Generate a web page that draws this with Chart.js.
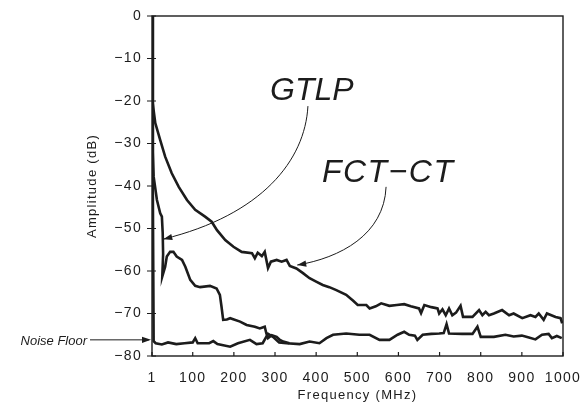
<!DOCTYPE html>
<html>
<head>
<meta charset="utf-8">
<script src="https://cdn.jsdelivr.net/npm/chart.js@4"></script>
<style>html,body{margin:0;padding:0;background:#fff}</style>
</head>
<body>
<canvas id="chart" width="584" height="412" style="width:584px;height:412px"></canvas>
<script>
// tick values
const xTicks = [1, 100, 200, 300, 400, 500, 600, 700, 800, 900, 1000];
const yTicks = [0, -10, -20, -30, -40, -50, -60, -70, -80];

// FCT-CT trace
const fctFreq = [1, 2, 9, 21, 33, 49, 66, 86, 106, 130, 146, 159, 179, 199, 219, 244, 251, 258, 268, 275, 283, 290, 304, 316, 328, 336, 352, 368, 384, 400, 416, 432, 449, 473, 490, 501, 522, 530, 545, 558, 578, 596, 614, 630, 650, 655, 663, 680, 695, 699, 707, 715, 723, 731, 740, 751, 757, 780, 796, 804, 812, 820, 832, 852, 869, 880, 901, 921, 933, 941, 953, 961, 982, 994, 998];
const fctAmp = [0, -20, -25.2, -29.2, -33.1, -37, -40.2, -43.3, -45.6, -47.2, -48.4, -50.4, -52.7, -54.3, -55.5, -55.8, -57, -55.7, -56.5, -55.5, -59.3, -57.8, -57.4, -57.8, -57.4, -58.8, -59.4, -60.5, -61.7, -62.5, -63.3, -63.8, -64.5, -65.6, -67, -68, -68, -68.8, -68.3, -67.6, -68.2, -68, -67.8, -68.3, -68.8, -69.9, -68, -68.5, -68.8, -70, -69, -70.4, -68.8, -70.4, -69.8, -68.2, -70.8, -70.8, -69.2, -70.4, -69.6, -70.4, -70, -69.2, -70.4, -70, -71.1, -70.4, -70.8, -70, -71.5, -70, -70.8, -71.1, -72.3];

// GTLP trace
const gtlpFreq = [1, 3, 5, 13, 21, 25, 27, 28, 26, 33, 37, 45, 53, 61, 74, 82, 94, 106, 118, 142, 158, 166, 170, 174, 183, 191, 215, 231, 251, 263, 275, 279, 283, 292, 304, 312, 320, 335];
const gtlpAmp = [0, -32, -37.8, -43.3, -46.4, -47.2, -51, -56, -61.3, -59, -56.6, -55.5, -55.5, -56.6, -57.4, -59, -62.1, -63.5, -63.8, -63.5, -64.1, -65.6, -68.4, -71.5, -71.4, -71.1, -71.9, -72.7, -73.1, -73.5, -73.1, -74.7, -75.8, -75.1, -75.5, -76.2, -76.6, -77];

// noise floor trace
const noiseFreq = [1, 3, 5, 10, 25, 40, 60, 80, 100, 106, 112, 140, 150, 160, 191, 210, 239, 255, 270, 283, 295, 310, 328, 360, 384, 408, 425, 441, 473, 505, 530, 554, 578, 598, 614, 626, 640, 646, 659, 680, 699, 710, 717, 723, 755, 780, 792, 800, 832, 860, 880, 900, 915, 933, 949, 965, 973, 985, 997];
const noiseAmp = [0, -40, -76.5, -77, -77.3, -76.8, -77.2, -77, -76.8, -75.8, -77, -77, -76.5, -77.2, -77.8, -77, -76.2, -77.2, -77, -74.8, -75.5, -76.8, -77, -77.2, -76.6, -77, -75.8, -75, -74.7, -75, -75, -76.2, -76.2, -75, -74.3, -75, -75.2, -76.2, -75, -74.8, -74.7, -74.6, -72.5, -74.7, -74.8, -74.8, -73.1, -75.5, -75.5, -75, -75.4, -75.2, -75.6, -76.1, -75, -74.8, -75.8, -75.3, -75.8];

const ink = '#1c1c1c';
const fontFamily = '"Liberation Sans", Arial, sans-serif';
const pts = (xs, ys) => xs.map((x, i) => ({ x: x, y: ys[i] }));
const trace = data => ({ data: data, borderColor: ink, borderWidth: 2.6, pointRadius: 0, tension: 0, fill: false });

function arrowHead(ctx, fx, fy, tx, ty) {
    const a = Math.atan2(ty - fy, tx - fx), len = 9, w = 3.2;
    ctx.beginPath();
    ctx.moveTo(tx, ty);
    ctx.lineTo(tx - len * Math.cos(a) + w * Math.sin(a), ty - len * Math.sin(a) - w * Math.cos(a));
    ctx.lineTo(tx - len * Math.cos(a) - w * Math.sin(a), ty - len * Math.sin(a) + w * Math.cos(a));
    ctx.closePath();
    ctx.fill();
}

const spacing = {
    id: 'spacing',
    beforeUpdate(chart) { chart.ctx.letterSpacing = '1.3px'; },
    beforeDraw(chart) { chart.ctx.letterSpacing = '1.3px'; }
};

const decor = {
    id: 'decor',
    afterDraw(chart) {
        const { ctx, chartArea: a, scales: { x, y } } = chart;
        ctx.save();
        ctx.strokeStyle = ink;
        ctx.fillStyle = ink;
        // frame
        ctx.lineWidth = 1.4;
        ctx.strokeRect(a.left, a.top, a.right - a.left, a.bottom - a.top);
        // tick marks
        ctx.lineWidth = 1.2;
        ctx.beginPath();
        xTicks.forEach(v => {
            const px = x.getPixelForValue(v);
            ctx.moveTo(px, a.bottom - 4);
            ctx.lineTo(px, a.bottom);
        });
        yTicks.forEach(v => {
            const py = y.getPixelForValue(v);
            ctx.moveTo(a.left - 5, py);
            ctx.lineTo(a.left + 4, py);
        });
        ctx.stroke();

        ctx.letterSpacing = '0px';
        const P = (fx, fy) => [x.getPixelForValue(fx), y.getPixelForValue(fy)];

        // labels
        ctx.font = 'italic 32px ' + fontFamily;
        ctx.textBaseline = 'alphabetic';
        ctx.textAlign = 'left';
        let p = P(288, -19.8);
        ctx.fillText('GTLP', p[0], p[1]);
        ctx.letterSpacing = '1.5px';
        p = P(414, -39.1);
        ctx.fillText('FCT\u2212CT', p[0], p[1]);
        ctx.letterSpacing = '0px';

        // arrows
        ctx.lineWidth = 1;
        const arcs = [
            [[380, -21.2], [373, -33.9], [269, -46.8], [28.4, -52.5]],
            [[570, -40.2], [565, -51.5], [458, -56.9], [354, -58.6]]
        ];
        arcs.forEach(c => {
            const q = c.map(v => P(v[0], v[1]));
            ctx.beginPath();
            ctx.moveTo(q[0][0], q[0][1]);
            ctx.bezierCurveTo(q[1][0], q[1][1], q[2][0], q[2][1], q[3][0], q[3][1]);
            ctx.stroke();
            arrowHead(ctx, q[2][0], q[2][1], q[3][0], q[3][1]);
        });

        // noise floor marker
        p = P(1, -76.2);
        ctx.beginPath();
        ctx.moveTo(p[0] - 62, p[1]);
        ctx.lineTo(p[0] - 3, p[1]);
        ctx.stroke();
        arrowHead(ctx, p[0] - 10, p[1], p[0] - 1, p[1]);
        ctx.font = 'italic 13px ' + fontFamily;
        ctx.textAlign = 'right';
        ctx.fillText('Noise Floor', p[0] - 65, p[1] + 5);
        ctx.restore();
    }
};

new Chart(document.getElementById('chart'), {
    type: 'line',
    data: {
        datasets: [trace(pts(fctFreq, fctAmp)), trace(pts(gtlpFreq, gtlpAmp)), trace(pts(noiseFreq, noiseAmp))]
    },
    options: {
        responsive: false,
        animation: false,
        layout: { padding: { left: 0, right: 21, top: 16, bottom: 0 } },
        plugins: { legend: { display: false }, tooltip: { enabled: false } },
        scales: {
            x: {
                type: 'linear',
                min: 1,
                max: 1000,
                afterBuildTicks: s => { s.ticks = xTicks.map(v => ({ value: v })); },
                afterFit: s => { s.height = 56; s.paddingLeft = 0; s.paddingRight = 0; },
                grid: { display: false, drawTicks: false },
                border: { display: false },
                ticks: {
                    color: ink,
                    font: { family: fontFamily, size: 14 },
                    padding: 14,
                    maxRotation: 0,
                    autoSkip: false,
                    callback: v => String(v)
                },
                title: { display: true, text: 'Frequency (MHz)', color: ink, font: { family: fontFamily, size: 13 }, padding: { top: 0, bottom: 9 } }
            },
            y: {
                min: -80,
                max: 0,
                afterBuildTicks: s => { s.ticks = yTicks.map(v => ({ value: v })); },
                afterFit: s => { s.width = 152; s.paddingTop = 0; s.paddingBottom = 0; },
                grid: { display: false, drawTicks: false },
                border: { display: false },
                ticks: {
                    color: ink,
                    font: { family: fontFamily, size: 14 },
                    padding: 10,
                    callback: v => v < 0 ? '\u2212' + Math.abs(v) : String(v)
                },
                title: { display: true, text: 'Amplitude (dB)', color: ink, font: { family: fontFamily, size: 13 }, padding: { top: 85, bottom: 0 } }
            }
        }
    },
    plugins: [spacing, decor]
});
</script>
</body>
</html>
